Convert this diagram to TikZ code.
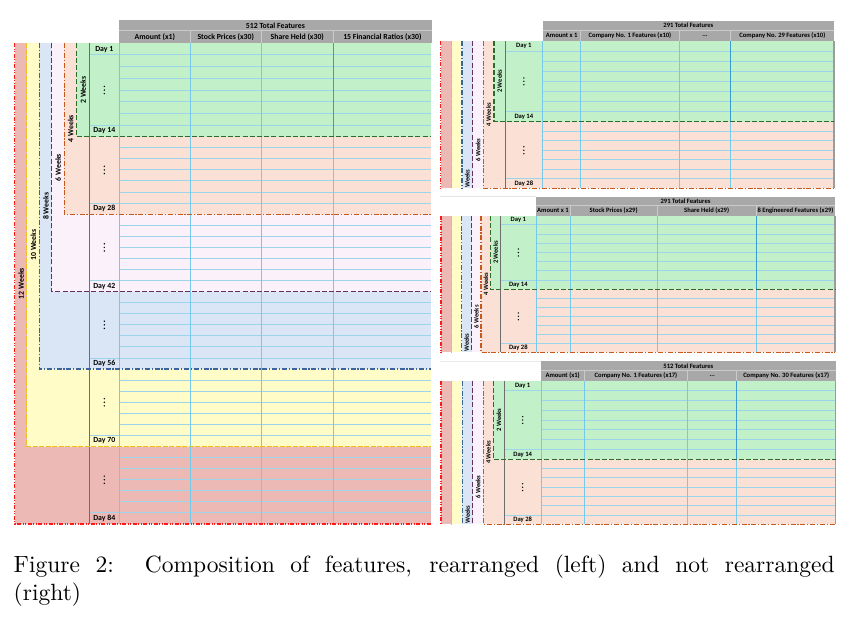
\documentclass[tikz,border=0pt]{standalone}
\usepackage{fontspec}
\newfontfamily\labfont{Carlito}
\newfontfamily\capfont{lmroman10-regular.otf}
\definecolor{redF}{HTML}{ECB9B5}
\definecolor{redL}{HTML}{FF1A1A}
\definecolor{yelF}{HTML}{FFFCC8}
\definecolor{yelL}{HTML}{F2BE1E}
\definecolor{bluF}{HTML}{DAE6F6}
\definecolor{bluL}{HTML}{3A659B}
\definecolor{purF}{HTML}{FAF1FA}
\definecolor{purL}{HTML}{66305F}
\definecolor{pchF}{HTML}{FBE1D5}
\definecolor{pchL}{HTML}{C8581A}
\definecolor{grnF}{HTML}{C2F0C8}
\definecolor{grnL}{HTML}{2D6A2D}
\definecolor{hdrC}{HTML}{A8A8A8}
\definecolor{hdrS}{HTML}{CACACA}
\definecolor{gridC}{HTML}{9CD4EC}
\definecolor{gridV}{HTML}{78C8EA}
\definecolor{gridD}{HTML}{3B9CD2}
\definecolor{dayC}{HTML}{6E6E6E}
\definecolor{edgeC}{HTML}{9C9C9C}
\tikzset{
  llbl/.style={font=\labfont\bfseries\fontsize{7.8}{9}\selectfont, inner sep=0pt},
  rlbl/.style={font=\labfont\bfseries\fontsize{6.6}{8}\selectfont, inner sep=0pt},
  hline/.style={draw=gridC, line width=1pt},
  vline/.style={draw=gridV, line width=0.8pt},
  vdark/.style={draw=gridD, line width=0.9pt},
  hdrsep/.style={draw=hdrS, line width=0.8pt},
  dayline/.style={draw=dayC, line width=0.9pt},
  edgeline/.style={draw=edgeC, line width=1.5pt},
  redS/.style={draw=redL, line width=1.2pt, dash pattern=on 4pt off 1.5pt on 1pt off 1.5pt on 1pt off 1.5pt},
  yelS/.style={draw=yelL, line width=1.2pt, dash pattern=on 5pt off 1.5pt},
  bluS/.style={draw=bluL, line width=1.2pt, dash pattern=on 5pt off 1.8pt on 1.2pt off 1.8pt},
  purS/.style={draw=purL, line width=1.2pt, dash pattern=on 5pt off 2.2pt},
  pchS/.style={draw=pchL, line width=1.2pt, dash pattern=on 5pt off 1.8pt on 1.2pt off 1.8pt},
  grnS/.style={draw=grnL, line width=1.2pt, dash pattern=on 5pt off 2.2pt},
  captext/.style={font=\capfont\fontsize{23.5}{28}\selectfont, inner sep=0pt, text width=821pt, align=justify}
}
% right panel, driven by \def'd values
\newcommand\rpanel[1]{%
  \pgfmathsetmacro\rhG{(\pG-\pDT)/8}%
  \pgfmathsetmacro\rhP{(\pB-\pG)/7}%
  % header
  \fill[hdrC] (\pH,\pHT) rectangle (\pE,\pDT);
  \draw[hdrsep] (\pH,\pHM) -- (\pE,\pHM);
  \foreach \c in {\pCa,\pCb,\pCc} {\draw[hdrsep] (\c,\pHM) -- (\c,\pDT);}
  \node[rlbl] (#1-total) at ({(\pH+\pE)/2},{(\pHT+\pHM)/2}) {\pTt};
  \node[rlbl] (#1-h1) at ({(\pH+\pCa)/2},{(\pHM+\pDT)/2}) {\pTa};
  \node[rlbl] (#1-h2) at ({(\pCa+\pCb)/2},{(\pHM+\pDT)/2}) {\pTb};
  \node[rlbl] (#1-h3) at ({(\pCb+\pCc)/2},{(\pHM+\pDT)/2}) {\pTc};
  \node[rlbl] (#1-h4) at ({(\pCc+\pE)/2},{(\pHM+\pDT)/2}) {\pTd};
  % fills
  \fill[redF] (\pxR,\pDT) rectangle (\pE,\pB);
  \fill[yelF] (\pxY,\pDT) rectangle (\pE,\pB);
  \fill[bluF] (\pxB,\pDT) rectangle (\pE,\pB);
  \fill[purF] (\pxP,\pDT) rectangle (\pE,\pB);
  \fill[pchF] (\pxO,\pDT) rectangle (\pE,\pB);
  \fill[grnF] (\pxG,\pDT) rectangle (\pE,\pG);
  % grid
  \foreach \k in {2,...,6} {\draw[hline] (\pH,{\pDT+\k*\rhG}) -- (\pE,{\pDT+\k*\rhG});}
  \draw[hline] (\pxD,{\pDT+\rhG}) -- (\pE,{\pDT+\rhG});
  \draw[hline] (\pxD,{\pDT+7*\rhG}) -- (\pE,{\pDT+7*\rhG});
  \foreach \k in {1,...,5} {\draw[hline] (\pH,{\pG+\k*\rhP}) -- (\pE,{\pG+\k*\rhP});}
  \draw[hline] (\pxD,{\pG+6*\rhP}) -- (\pE,{\pG+6*\rhP});
  \foreach \c in {\pH,\pCa,\pCb,\pCc} {\draw[vline] (\c,\pDT) -- (\c,\pB);}
  \draw[vdark] (\pCc,\pDT) -- (\pCc,\pG);
  \draw[dayline] (\pxD,\pDT) -- (\pxD,\pB);
  \draw[edgeline] (\pE,\pDT) -- (\pE,\pB);
  % borders
  \draw[redS] (\pxR,\pDT) -- (\pxR,\pB);
  \draw[yelS] (\pxY,\pDT) -- (\pxY,\pB);
  \draw[bluS] (\pxB,\pDT) -- (\pxB,\pB);
  \draw[purS] (\pxP,\pDT) -- (\pxP,\pB);
  \draw[pchS] (\pxO,\pDT) -- (\pxO,\pB) -- (\pE,\pB);
  \draw[grnS] (\pxG,\pDT) -- (\pxG,\pG) -- (\pE,\pG);
  % labels
  \node[rlbl] (#1-d1) at ({(\pxD+\pH)/2},{\pDT+\rhG/2}) {Day 1};
  \node[rlbl] (#1-d14) at ({(\pxD+\pH)/2},{\pG-\rhG/2}) {Day 14};
  \node[rlbl] (#1-d28) at ({(\pxD+\pH)/2},{\pB-\rhP/2}) {Day 28};
  \foreach \d in {-3.4,0,3.4} {
    \fill ({(\pxD+\pH)/2},{(\pDT+\pG)/2+\d}) circle (0.75);
    \fill ({(\pxD+\pH)/2},{(\pG+\pB-\rhP)/2+\d}) circle (0.75);
  }
  \node[rlbl, rotate=90] (#1-w2) at ({(\pxG+\pxD)/2},{(\pDT+\pG)/2}) {2 Weeks};
  \node[rlbl, rotate=90] (#1-w4) at ({(\pxO+\pxG)/2},{(\pDT+\pB)/2}) {4 Weeks};
  \node[rlbl, rotate=90] (#1-w6) at ({(\pxP+\pxO)/2},{\pDT+0.74*(\pB-\pDT)}) {6 Weeks};
  \node[rlbl, rotate=90, anchor=west] (#1-w8) at ({(\pxB+\pxP)/2},{\pB-0.5}) {Weeks};
}
\begin{document}
\begin{tikzpicture}[x=1pt,y=-1pt]
\useasboundingbox[fill=white] (0,0) rectangle (851,616);

% ================= LEFT PANEL =================
% header
\fill[hdrC] (119.3,20) rectangle (431.5,43.3);
\draw[hdrsep] (119.3,30.7) -- (431.5,30.7);
\foreach \c in {190.3,261.3,333.3} {\draw[hdrsep] (\c,30.7) -- (\c,43.3);}
\node[llbl] (L-total) at (275.4,25.4) {512 Total Features};
\node[llbl] (L-h1) at (154.8,37.2) {Amount (x1)};
\node[llbl] (L-h2) at (225.8,37.2) {Stock Prices (x30)};
\node[llbl] (L-h3) at (297.3,37.2) {Share Held (x30)};
\node[llbl] (L-h4) at (382.4,37.2) {15 Financial Ratios (x30)};
% nested fills
\fill[redF] (14.7,43.3) rectangle (431,524);
\fill[yelF] (26.7,43.3) rectangle (431,446.54);
\fill[bluF] (39.3,43.3) rectangle (431,369.08);
\fill[purF] (51.7,43.3) rectangle (431,291.62);
\fill[pchF] (64.3,43.3) rectangle (431,214.16);
\fill[grnF] (76.7,43.3) rectangle (431,136.7);
% grid rows, green block
\foreach \k in {2,...,6} {\draw[hline] (119.3,{43.3+\k*11.675}) -- (431,{43.3+\k*11.675});}
\draw[hline] (89.3,54.975) -- (431,54.975);
\draw[hline] (89.3,125.025) -- (431,125.025);
% grid rows, later blocks
\foreach \b in {136.7,214.16,291.62,369.08,446.54} {
  \foreach \k in {1,...,5} {\draw[hline] (119.3,{\b+\k*11.066}) -- (431,{\b+\k*11.066});}
  \draw[hline] (89.3,{\b+6*11.066}) -- (431,{\b+6*11.066});
}
\foreach \c in {119.3,190.3,261.3,333.3} {\draw[vline] (\c,43.3) -- (\c,524);}
\draw[vdark] (333.3,43.3) -- (333.3,136.7);
\draw[dayline] (89.3,43.3) -- (89.3,524);
% borders
\draw[redS] (14.7,43.3) -- (14.7,524) -- (431,524);
\draw[yelS] (26.7,43.3) -- (26.7,446.54) -- (431,446.54);
\draw[bluS] (39.3,43.3) -- (39.3,369.08) -- (431,369.08);
\draw[purS] (51.7,43.3) -- (51.7,291.62) -- (431,291.62);
\draw[pchS] (64.3,43.3) -- (64.3,214.16) -- (431,214.16);
\draw[grnS] (76.7,43.3) -- (76.7,136.7) -- (431,136.7);
% week labels
\node[llbl, rotate=90] (L-w12) at (21.2,283.6) {12 Weeks};
\node[llbl, rotate=90] (L-w10) at (33.3,245) {10 Weeks};
\node[llbl, rotate=90] (L-w8) at (45.8,206.2) {8 Weeks};
\node[llbl, rotate=90] (L-w6) at (58.2,167.5) {6 Weeks};
\node[llbl, rotate=90] (L-w4) at (70.7,128.7) {4 Weeks};
\node[llbl, rotate=90] (L-w2) at (83.2,90) {2 Weeks};
% day labels
\node[llbl] (L-d1) at (104.3,49.2) {Day 1};
\node[llbl] (L-d14) at (104.3,130.9) {Day 14};
\foreach \b/\n in {214.16/28,291.62/42,369.08/56,446.54/70,524/84} {
  \node[llbl] (L-d\n) at (104.3,{\b-5.53}) {Day \n};
}
\foreach \d in {-3.6,0,3.6} {
  \fill (104.3,{90+\d}) circle (0.8);
  \foreach \b in {136.7,214.16,291.62,369.08,446.54} {\fill (104.3,{\b+33.2+\d}) circle (0.8);}
}

% ================= RIGHT PANELS =================
% separators
\draw[draw=black!10, line width=0.6pt] (440,196.7) -- (536,196.7);
\draw[draw=black!8, line width=0.6pt] (440,361) -- (541,361);

% top right
\def\pHT{20.7}\def\pHM{30.7}\def\pDT{41}\def\pG{121.7}\def\pB{188.3}
\def\pxR{440.7}\def\pxY{451.7}\def\pxB{462}\def\pxP{472.7}\def\pxO{483.3}\def\pxG{494}\def\pxD{505}
\def\pH{542.7}\def\pCa{580.7}\def\pCb{679.3}\def\pCc{730.7}\def\pE{834}
\def\pTt{291 Total Features}\def\pTa{Amount x 1}\def\pTb{Company No. 1 Features (x10)}\def\pTc{...}\def\pTd{Company No. 29 Features (x10)}
\rpanel{A}

% middle right
\def\pHT{196.7}\def\pHM{205.7}\def\pDT{215.7}\def\pG{289.3}\def\pB{352.3}
\def\pxR{441}\def\pxY{451.7}\def\pxB{461.7}\def\pxP{471.7}\def\pxO{481}\def\pxG{490.7}\def\pxD{500.7}
\def\pH{536}\def\pCa{570}\def\pCb{657.3}\def\pCc{756}\def\pE{835}
\def\pTt{291 Total Features}\def\pTa{Amount x 1}\def\pTb{Stock Prices (x29)}\def\pTc{Share Held (x29)}\def\pTd{8 Engineered Features (x29)}
\rpanel{B}

% bottom right
\def\pHT{361}\def\pHM{370.7}\def\pDT{380.7}\def\pG{459.3}\def\pB{524.3}
\def\pxR{441}\def\pxY{451.7}\def\pxB{462.3}\def\pxP{472.7}\def\pxO{483.3}\def\pxG{493.3}\def\pxD{504.3}
\def\pH{541}\def\pCa{584.3}\def\pCb{687.7}\def\pCc{736.7}\def\pE{835.7}
\def\pTt{512 Total Features}\def\pTa{Amount (x1)}\def\pTb{Company No. 1 Features (x17)}\def\pTc{...}\def\pTd{Company No. 30 Features (x17)}
\rpanel{C}

% ================= CAPTION =================
\node[captext, anchor=north west] (caption) at (13.5,554.7) {Figure 2:\ \ Composition of features, rearranged (left) and not rearranged\linebreak (right)};
\end{tikzpicture}
\end{document}
